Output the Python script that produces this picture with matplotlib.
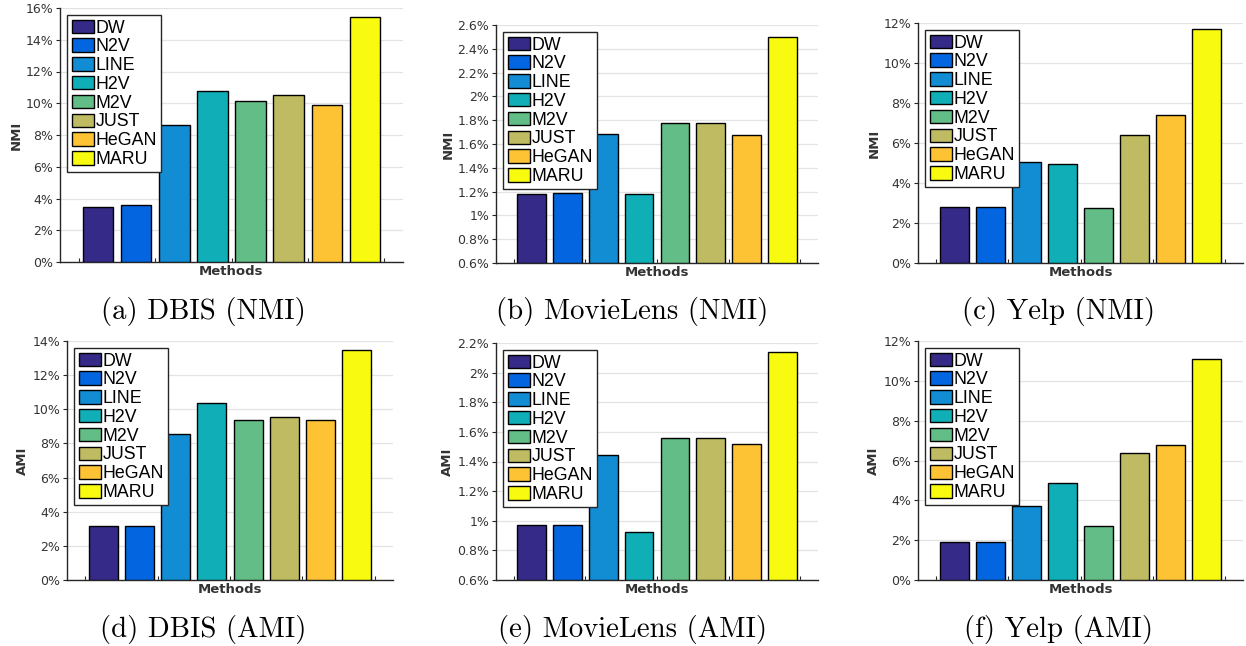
import matplotlib
matplotlib.use("Agg")
import matplotlib.pyplot as plt
from matplotlib.ticker import FuncFormatter

methods = ["DW", "N2V", "LINE", "H2V", "M2V", "JUST", "HeGAN", "MARU"]
colors = ["#352A87", "#0366E0", "#128CD2", "#10AFB8", "#63BD86",
          "#BFBB62", "#FEC235", "#F8FA0F"]

# values in percent
dbis_nmi = [3.47, 3.56, 8.61, 10.80, 10.17, 10.55, 9.89, 15.45]
movielens_nmi = [1.183, 1.186, 1.68, 1.181, 1.773, 1.775, 1.672, 2.502]
yelp_nmi = [2.82, 2.82, 5.05, 4.95, 2.75, 6.42, 7.40, 11.70]
dbis_ami = [3.16, 3.16, 8.54, 10.37, 9.38, 9.55, 9.40, 13.49]
movielens_ami = [0.969, 0.969, 1.443, 0.921, 1.557, 1.562, 1.521, 2.142]
yelp_ami = [1.89, 1.89, 3.73, 4.88, 2.69, 6.38, 6.77, 11.11]

captions = ["(a) DBIS (NMI)", "(b) MovieLens (NMI)", "(c) Yelp (NMI)",
            "(d) DBIS (AMI)", "(e) MovieLens (AMI)", "(f) Yelp (AMI)"]

W, H = 1246, 646

# (values, ylabel, ymin, ymax, ystep, box in pixels: left, top, right, bottom)
panels = [
    (dbis_nmi, "NMI", 0, 16, 2, (60, 8, 403, 262)),
    (movielens_nmi, "NMI", 0.6, 2.6, 0.2, (496, 25, 818, 263)),
    (yelp_nmi, "NMI", 0, 12, 2, (918, 23, 1243, 263)),
    (dbis_ami, "AMI", 0, 14, 2, (67, 341, 393, 580)),
    (movielens_ami, "AMI", 0.6, 2.2, 0.2, (496, 343, 818, 580)),
    (yelp_ami, "AMI", 0, 12, 2, (918, 341, 1243, 580)),
]
caption_x = [203, 632, 1058, 203, 632, 1058]
caption_y = [311, 311, 311, 629, 629, 629]

fig = plt.figure(figsize=(W / 100, H / 100), dpi=100)
fig.patch.set_facecolor("white")

for i, (vals, ylab, ymin, ymax, ystep, box) in enumerate(panels):
    l, t, r, b = box
    ax = fig.add_axes([l / W, 1 - b / H, (r - l) / W, (b - t) / H])
    xs = [0.65 + 0.1 * k for k in range(len(methods))]
    for k in range(len(methods)):
        ax.bar(xs[k], vals[k] - ymin, width=0.08, bottom=ymin,
               color=colors[k], edgecolor="black", linewidth=1.0,
               label=methods[k], zorder=3)
    ax.set_xlim(0.55, 1.45)
    ax.set_ylim(ymin, ymax)
    n = int(round((ymax - ymin) / ystep))
    ax.set_yticks([ymin + ystep * j for j in range(n + 1)])
    ax.yaxis.set_major_formatter(FuncFormatter(lambda v, p: f"{round(v, 3):g}%"))
    ax.set_xticks([0.6, 0.8, 1.0, 1.2, 1.4])
    ax.set_xticklabels([])
    ax.tick_params(axis="x", direction="in", length=3, color="#262626")
    ax.tick_params(axis="y", direction="out", length=3, color="#262626",
                   labelsize=9, labelcolor="#333333", pad=2)
    for s in ["top", "right"]:
        ax.spines[s].set_visible(False)
    for s in ["left", "bottom"]:
        ax.spines[s].set_color("#262626")
        ax.spines[s].set_linewidth(1.0)
    ax.yaxis.grid(True, color="#e3e3e3", linewidth=0.9, zorder=0)
    ax.set_axisbelow(True)
    ax.set_ylabel(ylab, fontsize=9.5, fontweight="bold", color="#333333",
                  labelpad=2)
    ax.set_xlabel("Methods", fontsize=9.5, fontweight="bold", color="#333333",
                  labelpad=-1)
    leg = ax.legend(loc="upper left", prop={"family": "Liberation Sans", "size": 12.8},
                    frameon=True, fancybox=False, edgecolor="#262626",
                    framealpha=1, borderaxespad=0.4, borderpad=0.25,
                    labelspacing=0.1, handlelength=1.24, handleheight=0.79,
                    handletextpad=0.1)
    leg.get_frame().set_linewidth(1.0)
    fig.text(caption_x[i] / W, 1 - caption_y[i] / H, captions[i],
             ha="center", va="center", fontsize=20.7, family="cmr10")

fig.savefig("out.png", dpi=100)
